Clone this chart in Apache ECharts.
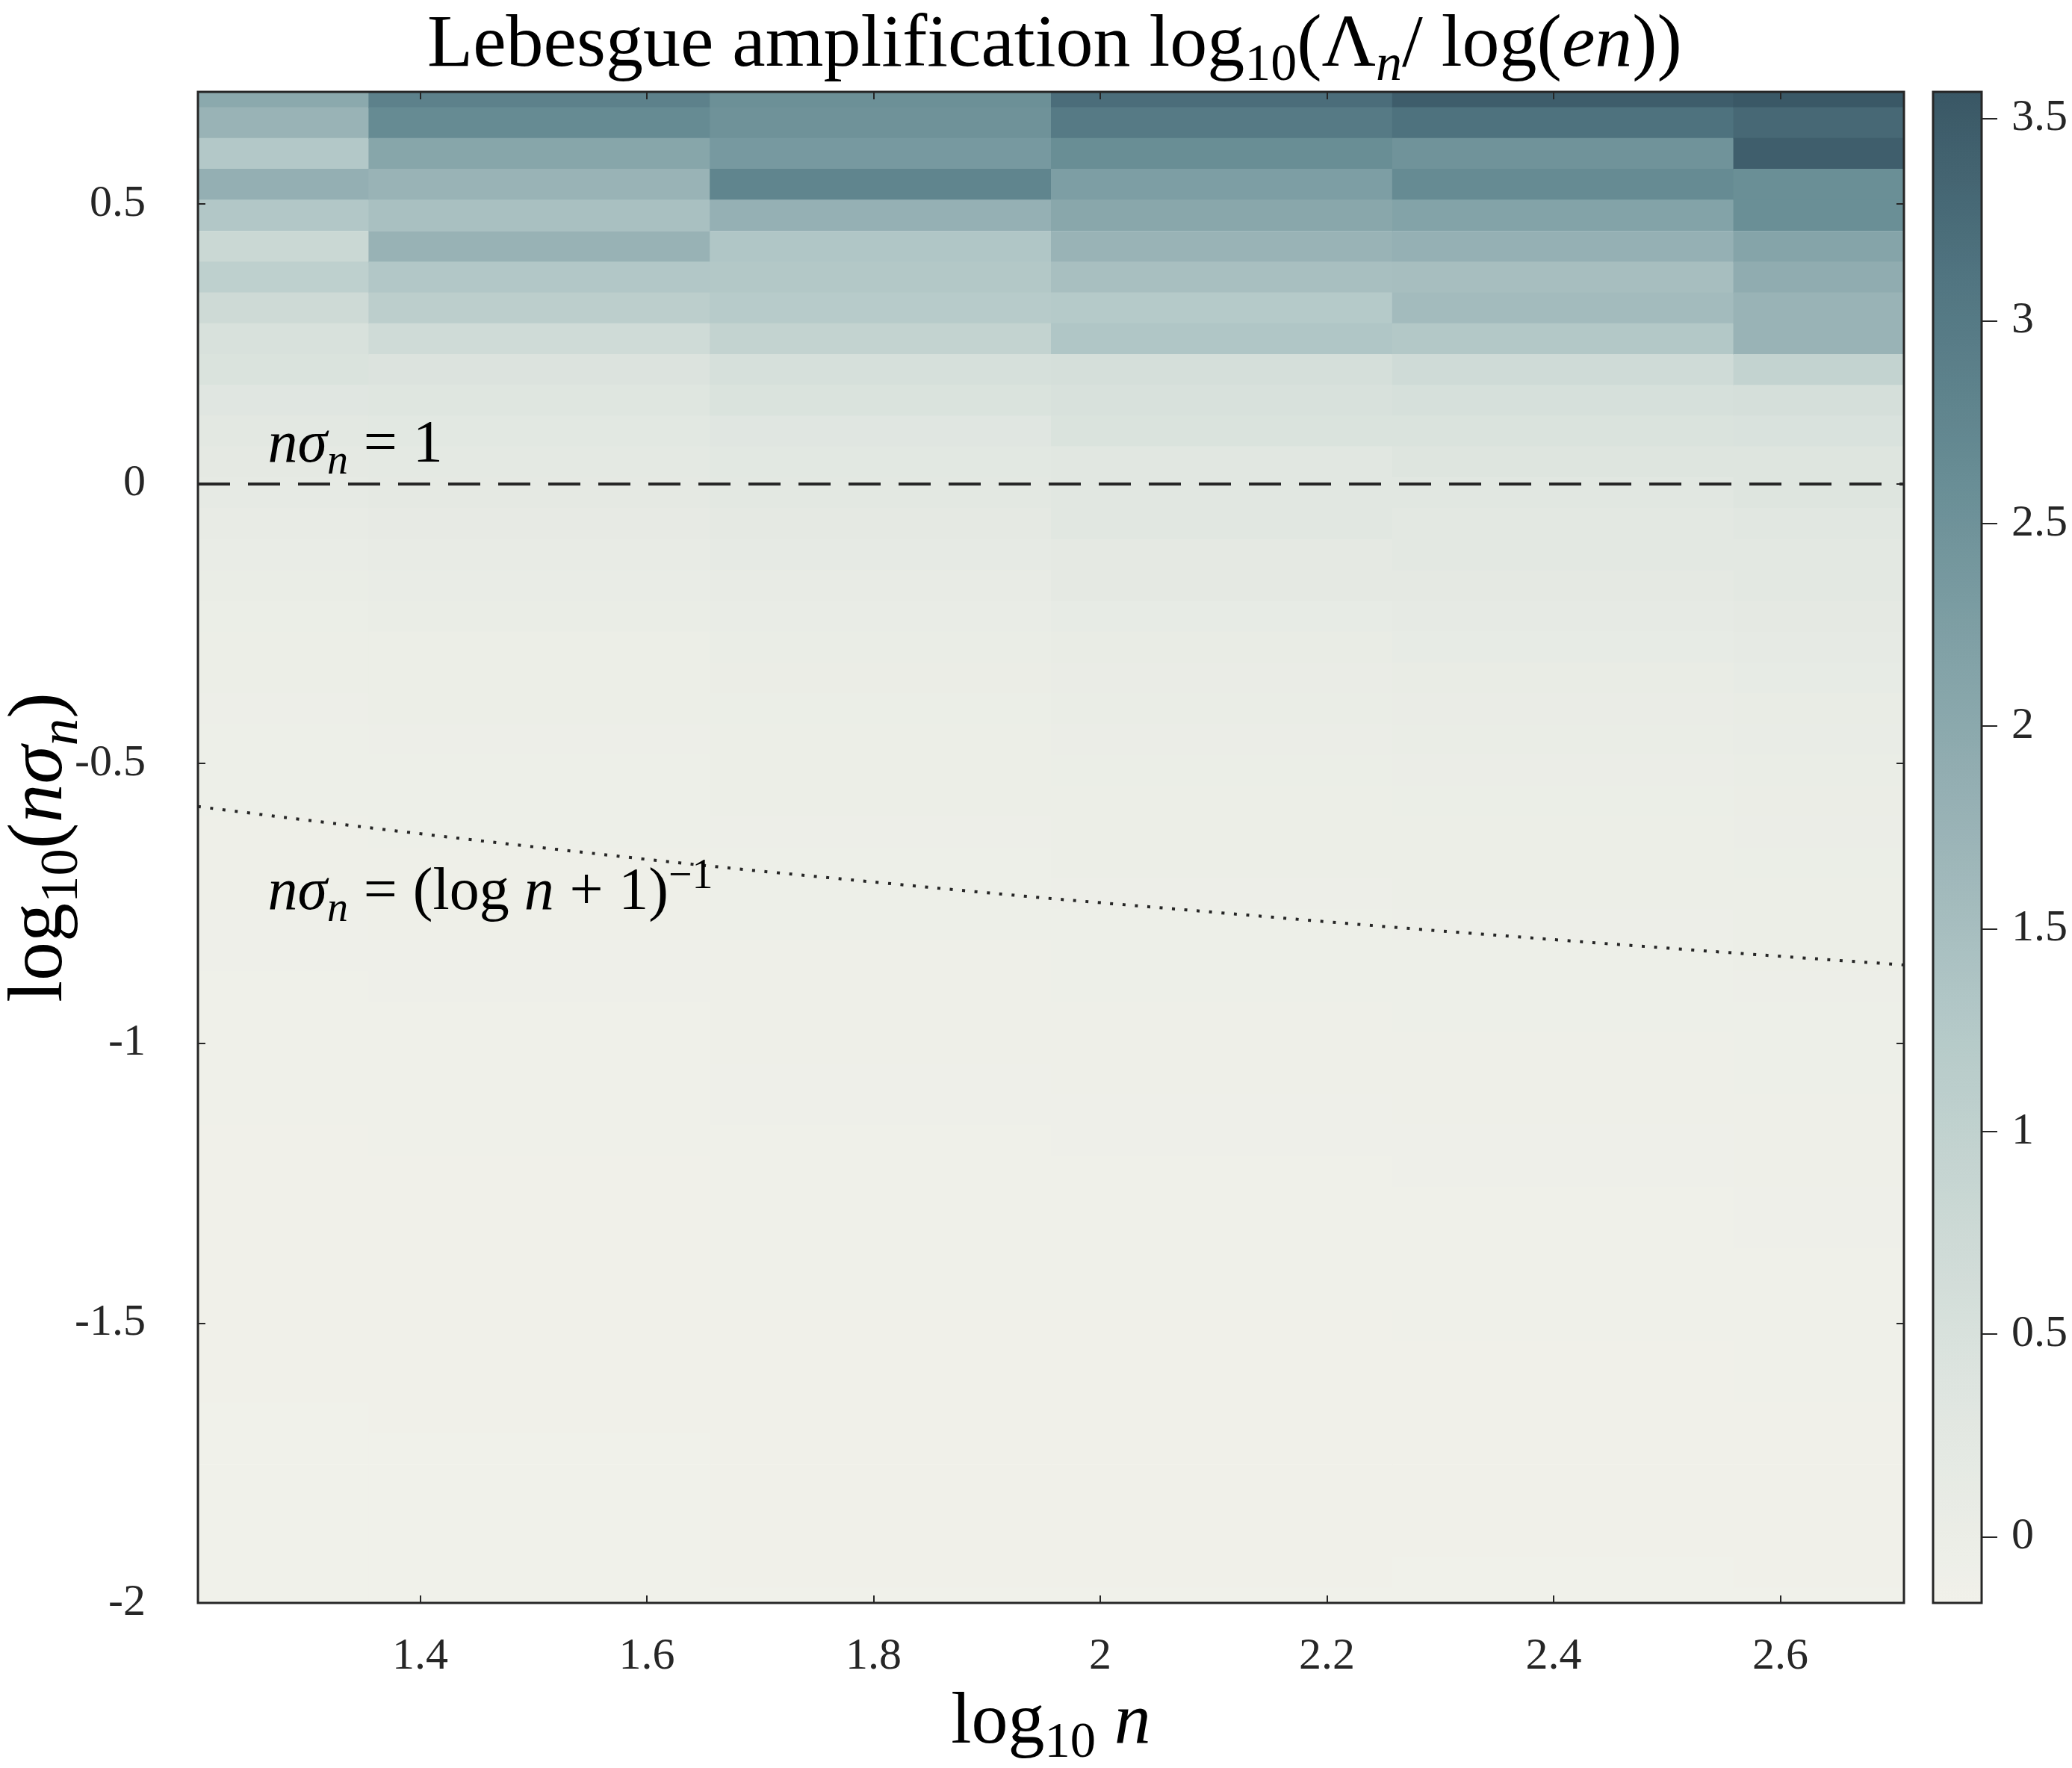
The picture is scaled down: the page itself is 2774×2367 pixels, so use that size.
<!DOCTYPE html>
<html>
<head>
<meta charset="utf-8">
<title>Lebesgue amplification</title>
<script src="https://cdn.jsdelivr.net/npm/echarts@6/dist/echarts.min.js"></script>
<style>
  html, body { margin: 0; padding: 0; background: #fff; }
  #main { width: 2774px; height: 2367px; }
</style>
</head>
<body>
<div id="main"></div>
<script>
// column centres: log10 n  (n = 16, 32, ..., 512)
var logN = [1.204, 1.505, 1.806, 2.107, 2.408, 2.709];

// row centres: log10(n sigma_n), top to bottom
var logNSigma = [
  0.700, 0.645, 0.590, 0.535, 0.480, 0.424, 0.369, 0.314, 0.259, 0.204,
  0.149, 0.094, 0.039, -0.016, -0.071, -0.127, -0.182, -0.237, -0.292, -0.347,
  -0.402, -0.457, -0.512, -0.567, -0.622, -0.678, -0.733, -0.788, -0.843, -0.898,
  -0.953, -1.008, -1.063, -1.118, -1.173, -1.229, -1.284, -1.339, -1.394, -1.449,
  -1.504, -1.559, -1.614, -1.669, -1.724, -1.780, -1.835, -1.890, -1.945, -2.000
];

// log10(Lambda_n / log(en)) per column, same row order as logNSigma
var amp16 = [
  2.00, 1.75, 1.27, 1.85, 1.30, 0.80, 1.05, 0.72, 0.50, 0.45,
  0.32, 0.25, 0.20, 0.17, 0.10, 0.07, 0.03, 0.00, -0.02, -0.03,
  -0.04, -0.05, -0.06, -0.06, -0.07, -0.08, -0.08, -0.09, -0.09, -0.10,
  -0.10, -0.11, -0.11, -0.11, -0.12, -0.12, -0.12, -0.12, -0.13, -0.13,
  -0.13, -0.13, -0.13, -0.14, -0.14, -0.14, -0.14, -0.14, -0.14, -0.14
];
var amp32 = [
  2.85, 2.65, 2.08, 1.75, 1.45, 1.78, 1.30, 1.10, 0.70, 0.42,
  0.35, 0.27, 0.22, 0.20, 0.14, 0.10, 0.06, 0.03, -0.01, -0.02,
  -0.03, -0.04, -0.05, -0.06, -0.06, -0.07, -0.08, -0.08, -0.09, -0.09,
  -0.10, -0.10, -0.11, -0.11, -0.11, -0.12, -0.12, -0.12, -0.12, -0.13,
  -0.13, -0.13, -0.13, -0.13, -0.14, -0.14, -0.14, -0.14, -0.14, -0.14
];
var amp64 = [
  2.55, 2.50, 2.35, 2.78, 1.82, 1.32, 1.28, 1.20, 0.95, 0.55,
  0.45, 0.32, 0.26, 0.24, 0.20, 0.15, 0.11, 0.07, 0.04, 0.02,
  0.00, -0.01, -0.02, -0.03, -0.04, -0.05, -0.05, -0.06, -0.07, -0.07,
  -0.08, -0.08, -0.09, -0.09, -0.10, -0.10, -0.10, -0.11, -0.11, -0.11,
  -0.12, -0.12, -0.12, -0.12, -0.13, -0.13, -0.13, -0.13, -0.13, -0.14
];
var amp128 = [
  3.22, 3.00, 2.60, 2.25, 2.05, 1.75, 1.48, 1.23, 1.33, 0.57,
  0.50, 0.45, 0.30, 0.30, 0.30, 0.20, 0.19, 0.12, 0.08, 0.05,
  0.03, 0.01, 0.00, -0.01, -0.02, -0.03, -0.04, -0.05, -0.06, -0.06,
  -0.07, -0.08, -0.08, -0.09, -0.09, -0.10, -0.10, -0.11, -0.11, -0.11,
  -0.12, -0.12, -0.12, -0.12, -0.13, -0.13, -0.13, -0.13, -0.13, -0.14
];
var amp256 = [
  3.47, 3.15, 2.48, 2.65, 2.15, 1.82, 1.50, 1.57, 1.28, 0.70,
  0.55, 0.45, 0.37, 0.30, 0.25, 0.24, 0.20, 0.16, 0.12, 0.08,
  0.05, 0.03, 0.01, 0.00, -0.01, -0.02, -0.03, -0.04, -0.05, -0.06,
  -0.06, -0.07, -0.08, -0.08, -0.09, -0.09, -0.10, -0.10, -0.11, -0.11,
  -0.11, -0.12, -0.12, -0.12, -0.13, -0.13, -0.13, -0.13, -0.14, -0.14
];
var amp512 = [
  3.55, 3.30, 3.45, 2.58, 2.58, 2.12, 1.92, 1.75, 1.75, 0.95,
  0.57, 0.47, 0.37, 0.37, 0.30, 0.25, 0.24, 0.20, 0.15, 0.12,
  0.08, 0.06, 0.04, 0.02, 0.01, 0.00, -0.01, -0.02, -0.03, -0.04,
  -0.05, -0.06, -0.06, -0.07, -0.08, -0.08, -0.09, -0.09, -0.10, -0.10,
  -0.11, -0.11, -0.11, -0.12, -0.12, -0.12, -0.13, -0.13, -0.13, -0.14
];
var ampCols = [amp16, amp32, amp64, amp128, amp256, amp512];

// dotted curve n*sigma_n = (log n + 1)^-1, read at the column centres
var curveY = [-0.577, -0.650, -0.713, -0.767, -0.816, -0.860];

// colour bar range
var cMin = -0.163, cMax = 3.565;
var cmap = ['#f1f1ea', '#e1e7e1', '#ccd9d5', '#b5cac9', '#9cb5b8',
            '#82a2a7', '#678c94', '#517581', '#395765'];

var cellW = 0.301, cellH = 0.0551;
var ink = '#262626';
var serif = 'Liberation Serif';

var cells = [];
ampCols.forEach(function (col, i) {
  col.forEach(function (v, j) {
    cells.push([logN[i], logNSigma[j], v]);
  });
});

function renderCell(params, api) {
  var x = api.value(0), y = api.value(1);
  var p0 = api.coord([x - cellW / 2, y + cellH / 2]);
  var p1 = api.coord([x + cellW / 2, y - cellH / 2]);
  var cs = params.coordSys;
  var shape = echarts.graphic.clipRectByRect(
    { x: p0[0], y: p0[1], width: p1[0] - p0[0] + 1, height: p1[1] - p0[1] + 1 },
    { x: cs.x, y: cs.y, width: cs.width, height: cs.height }
  );
  if (!shape) return;
  return { type: 'rect', shape: shape, style: { fill: api.visual('color') } };
}

// rich text pieces for the LaTeX-ish labels
function mathRich(size) {
  var base = { fontFamily: serif, fontWeight: 'normal', color: '#000', textBorderWidth: 0, opacity: 1 };
  return {
    t: Object.assign({ fontSize: size, lineHeight: size * 1.25 }, base),
    i: Object.assign({ fontSize: size, lineHeight: size * 1.25, fontStyle: 'italic' }, base),
    op: Object.assign({ fontSize: size, lineHeight: size * 1.25, padding: [0, size * 0.26] }, base),
    sub: Object.assign({ fontSize: size * 0.7, lineHeight: size * 0.7, verticalAlign: 'bottom' }, base),
    isub: Object.assign({ fontSize: size * 0.7, lineHeight: size * 0.7, verticalAlign: 'bottom', fontStyle: 'italic' }, base),
    sup: Object.assign({ fontSize: size * 0.7, lineHeight: size * 0.7, verticalAlign: 'top' }, base)
  };
}

var myChart = echarts.init(document.getElementById('main'));

var option = {
  backgroundColor: '#ffffff',
  animation: false,
  title: {
    text: '{t|Lebesgue amplification log}{sub|10}{t|(Λ}{isub|n}{t|/ log(}{i|en}{t|))}',
    left: 1407,
    textAlign: 'center',
    top: -6,
    textStyle: { fontWeight: 'normal', rich: mathRich(100) }
  },
  grid: [
    { left: 265, top: 123, width: 2284, height: 2023, show: true, z: 10,
      outerBoundsMode: 'none', containLabel: false,
      borderColor: ink, borderWidth: 3, backgroundColor: 'transparent' },
    { left: 2588, top: 123, width: 65, height: 2023, show: true, z: 10,
      outerBoundsMode: 'none', containLabel: false,
      borderColor: ink, borderWidth: 3, backgroundColor: 'transparent' }
  ],
  xAxis: [
    {
      type: 'value', gridIndex: 0, min: 1.204, max: 2.709, splitNumber: 7, z: 10,
      name: '{t|log}{sub|10}{t| }{i|n}', nameLocation: 'middle', nameGap: 100,
      nameMoveOverlap: false,
      nameTextStyle: { rich: mathRich(98) },
      axisLine: { show: false, onZero: false },
      axisTick: { inside: true, length: 10, lineStyle: { color: ink, width: 2 } },
      axisLabel: { fontFamily: serif, fontSize: 60, color: ink, margin: 42,
                   showMinLabel: false, showMaxLabel: false },
      splitLine: { show: false }
    },
    {
      type: 'value', gridIndex: 0, position: 'top', min: 1.204, max: 2.709, splitNumber: 7, z: 10,
      axisLine: { show: false, onZero: false },
      axisTick: { inside: true, length: 10, lineStyle: { color: ink, width: 2 } },
      axisLabel: { show: false },
      splitLine: { show: false }
    },
    { type: 'value', gridIndex: 1, show: false, min: 0, max: 1 }
  ],
  yAxis: [
    {
      type: 'value', gridIndex: 0, min: -2, max: 0.7, interval: 0.5, z: 10,
      name: '{t|log}{sub|10}{t|(}{i|nσ}{isub|n}{t|)}', nameLocation: 'middle', nameGap: 145,
      nameMoveOverlap: false,
      nameTextStyle: { rich: mathRich(104) },
      axisLine: { show: false, onZero: false },
      axisTick: { inside: true, length: 10, lineStyle: { color: ink, width: 2 } },
      axisLabel: { fontFamily: serif, fontSize: 60, color: ink, margin: 70,
                   showMaxLabel: false },
      splitLine: { show: false }
    },
    {
      type: 'value', gridIndex: 0, position: 'right', min: -2, max: 0.7, interval: 0.5, z: 10,
      axisLine: { show: false, onZero: false },
      axisTick: { inside: true, length: 10, lineStyle: { color: ink, width: 2 } },
      axisLabel: { show: false },
      splitLine: { show: false }
    },
    {
      type: 'value', gridIndex: 1, position: 'right', min: cMin, max: cMax, splitNumber: 8,
      axisLine: { show: false, onZero: false },
      axisTick: { inside: false, length: 21, lineStyle: { color: ink, width: 2 } },
      axisLabel: { fontFamily: serif, fontSize: 60, color: ink, margin: 40,
                   showMinLabel: false, showMaxLabel: false },
      splitLine: { show: false }
    }
  ],
  visualMap: {
    type: 'continuous',
    seriesIndex: 0,
    dimension: 2,
    min: cMin,
    max: cMax,
    calculable: false,
    hoverLink: false,
    orient: 'vertical',
    left: 2588,
    top: 123,
    padding: 0,
    itemWidth: 65,
    itemHeight: 2023,
    text: null,
    showLabel: false,
    inRange: { color: cmap }
  },
  series: [
    {
      type: 'custom',
      xAxisIndex: 0,
      yAxisIndex: 0,
      renderItem: renderCell,
      encode: { x: 0, y: 1 },
      data: cells,
      silent: true,
      clip: true
    },
    {
      type: 'line',
      xAxisIndex: 0,
      yAxisIndex: 0,
      data: logN.map(function (x, i) { return [x, curveY[i]]; }),
      smooth: true,
      showSymbol: false,
      silent: true,
      z: 5,
      lineStyle: { color: ink, width: 4, type: [4, 12.6] },
      markLine: {
        silent: true,
        symbol: ['none', 'none'],
        label: { show: false },
        lineStyle: { color: ink, width: 4, type: [43, 24] },
        data: [{ yAxis: 0 }]
      }
    },
    {
      type: 'scatter',
      xAxisIndex: 0,
      yAxisIndex: 0,
      symbolSize: 1,
      itemStyle: { color: 'rgba(0,0,0,0)' },
      silent: true,
      z: 6,
      data: [
        { value: [1.266, 0.0],
          label: { formatter: '{i|nσ}{isub|n}{op|=}{t|1}' } },
        { value: [1.266, -0.80],
          label: { formatter: '{i|nσ}{isub|n}{op|=}{t|(log }{i|n}{op|+}{t|1)}{sup|−1}' } }
      ],
      label: {
        show: true,
        position: [0, 0],
        align: 'left',
        verticalAlign: 'bottom',
        color: '#000',
        opacity: 1,
        textBorderWidth: 0,
        rich: mathRich(80)
      }
    }
  ]
};

myChart.setOption(option);
</script>
</body>
</html>
